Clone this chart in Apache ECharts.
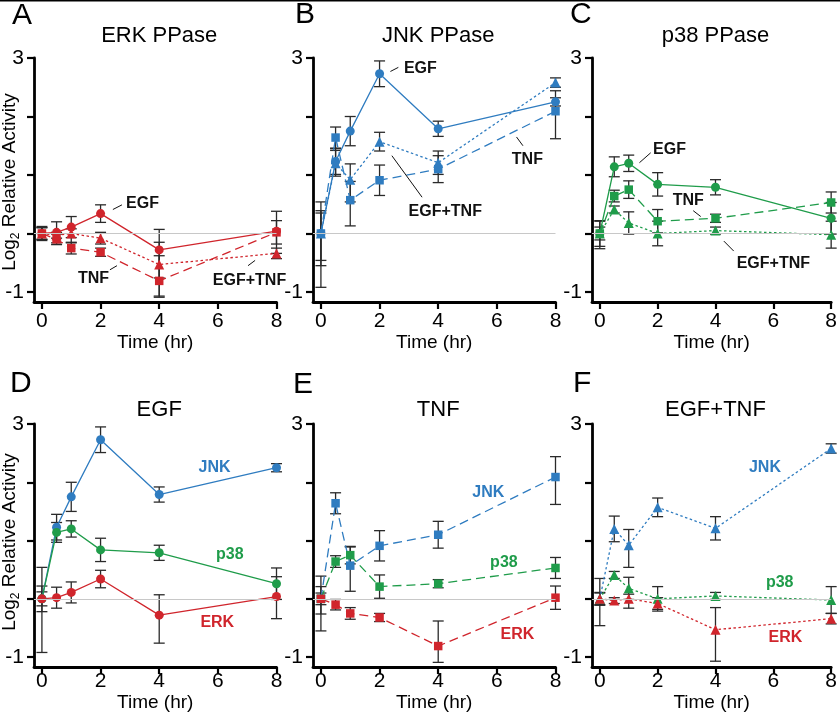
<!DOCTYPE html>
<html><head><meta charset="utf-8">
<script src="https://cdn.jsdelivr.net/npm/echarts@6/dist/echarts.min.js"></script>
<style>html,body{margin:0;padding:0;background:#fff}#c{width:840px;height:713px}</style>
</head><body><div id="c"></div><script>
// ---------- data ----------
const times = [0, 0.5, 1, 2, 4, 8];
const xTicks = [0, 2, 4, 6, 8];
const yTicks = [-1, 0, 1, 2, 3];
const yTickLabels = [-1, 3];
const panelLetters = ['A', 'B', 'C', 'D', 'E', 'F'];
const panelTitles = ['ERK PPase', 'JNK PPase', 'p38 PPase', 'EGF', 'TNF', 'EGF+TNF'];
const treatments = ['EGF', 'TNF', 'EGF+TNF'];
const kinases = ['ERK', 'JNK', 'p38'];

// log2 relative activity (mean); error: number = symmetric, [down, up] otherwise
const erkEGF = [0, 0.02, 0.11, 0.34, -0.28, 0.04];
const erkEGFErr = [0.12, 0.18, 0.18, 0.15, [0.48, 0.35], [0.38, 0.34]];
const erkTNF = [0, -0.10, -0.25, -0.32, -0.81, 0.02];
const erkTNFErr = [0.1, 0.09, 0.1, 0.07, [0.28, 0.43], 0.2];
const erkBoth = [0, -0.03, 0.0, -0.08, -0.53, -0.34];
const erkBothErr = [0.1, 0.05, [0.16, 0.08], 0.1, [0.54, 0.38], 0.09];

const jnkEGF = [0, 1.23, 1.75, 2.73, 1.79, 2.25];
const jnkEGFErr = [[0.92, 0.54], 0.22, 0.25, 0.22, 0.13, 0.07];
const jnkTNF = [0, 1.64, 0.57, 0.91, 1.10, 2.09];
const jnkTNFErr = [[0.55, 0.39], 0.18, [0.44, 0.32], 0.26, 0.23, [0.47, 0.35]];
const jnkBoth = [0, 1.2, 0.92, 1.57, 1.21, 2.58];
const jnkBothErr = [[0.46, 0.35], 0.22, [0.38, 0.27], 0.16, 0.2, 0.08];

const p38EGF = [0, 1.14, 1.2, 0.84, 0.79, 0.26];
const p38EGFErr = [0.22, 0.17, 0.14, 0.2, 0.13, 0.27];
const p38TNF = [0, 0.64, 0.75, 0.21, 0.26, 0.53];
const p38TNFErr = [[0.26, 0.21], 0.1, 0.15, 0.2, 0.07, 0.18];
const p38Both = [0, 0.41, 0.18, 0.0, 0.05, -0.02];
const p38BothErr = [0.11, 0.06, 0.19, 0.21, 0.06, 0.23];

// ---------- styles / layout ----------
const FONT = '"Liberation Sans", Arial, sans-serif';
const COL = { ERK: '#d0252c', JNK: '#2f7cc0', p38: '#1f9c4a' };
const TSTYLE = {
  'EGF': { symbol: 'circle', size: 9, line: 'solid' },
  'TNF': { symbol: 'rect', size: 8.5, line: [9, 5] },
  'EGF+TNF': { symbol: 'triangle', size: 10, line: [2.5, 2.5] }
};
const DATA = {
  ERK: { 'EGF': [erkEGF, erkEGFErr], 'TNF': [erkTNF, erkTNFErr], 'EGF+TNF': [erkBoth, erkBothErr] },
  JNK: { 'EGF': [jnkEGF, jnkEGFErr], 'TNF': [jnkTNF, jnkTNFErr], 'EGF+TNF': [jnkBoth, jnkBothErr] },
  p38: { 'EGF': [p38EGF, p38EGFErr], 'TNF': [p38TNF, p38TNFErr], 'EGF+TNF': [p38Both, p38BothErr] }
};
const gridLefts = [34, 313, 592];
const gridTops = [58, 424];
const GW = 242.5, GH = 244;

// panels: grid index -> list of [kinase, treatment]
const panels = [
  treatments.map(t => ['ERK', t]),
  treatments.map(t => ['JNK', t]),
  treatments.map(t => ['p38', t]),
  ['JNK', 'p38', 'ERK'].map(k => [k, 'EGF']),
  ['JNK', 'p38', 'ERK'].map(k => [k, 'TNF']),
  ['JNK', 'p38', 'ERK'].map(k => [k, 'EGF+TNF'])
];

const grids = [], xAxes = [], yAxes = [], series = [];
for (let g = 0; g < 6; g++) {
  const row = Math.floor(g / 3), col = g % 3;
  grids.push({ left: gridLefts[col], top: gridTops[row], width: GW, height: GH, containLabel: false });
  xAxes.push({
    gridIndex: g, type: 'value', min: -0.27, max: 8, position: 'bottom',
    axisLine: { show: true, onZero: false, lineStyle: { color: '#000', width: 2.8 } },
    axisTick: { show: true, customValues: xTicks, length: 7, lineStyle: { color: '#000', width: 2.2 } },
    axisLabel: { customValues: xTicks, fontSize: 21, color: '#000', fontFamily: FONT, margin: row === 0 ? 9 : 4 },
    splitLine: { show: false },
    name: 'Time (hr)', nameLocation: 'middle', nameGap: row === 0 ? 24 : 23,
    nameTextStyle: { fontSize: 19, color: '#000', fontFamily: FONT }
  });
  yAxes.push({
    gridIndex: g, type: 'value', min: -1.171, max: 3, position: 'left',
    axisLine: { show: true, onZero: false, lineStyle: { color: '#000', width: 2.8 } },
    axisTick: { show: true, customValues: yTicks, length: 7, lineStyle: { color: '#000', width: 2.2 } },
    axisLabel: { customValues: yTickLabels, fontSize: 21, color: '#000', fontFamily: FONT, margin: 10 },
    splitLine: { show: false }
  });
  // zero reference line
  series.push({
    type: 'line', xAxisIndex: g, yAxisIndex: g, data: [], z: 1, silent: true,
    markLine: { silent: true, symbol: 'none', label: { show: false }, animation: false,
      lineStyle: { color: '#c8c8c8', width: 1, type: 'solid' }, data: [{ yAxis: 0 }] }
  });
  panels[g].forEach(([k, t]) => {
    const [mean, err] = DATA[k][t];
    const st = TSTYLE[t];
    const errData = times.map((x, i) => {
      const e = err[i];
      const dn = Array.isArray(e) ? e[0] : e, up = Array.isArray(e) ? e[1] : e;
      return [x, mean[i] - dn, mean[i] + up];
    });
    series.push({
      type: 'custom', xAxisIndex: g, yAxisIndex: g, z: 2, silent: true,
      data: errData, encode: { x: 0, y: [1, 2] },
      renderItem: (params, api) => {
        const x = api.value(0);
        const p1 = api.coord([x, api.value(1)]), p2 = api.coord([x, api.value(2)]);
        const hw = 5.5, s = { stroke: '#2a2a2a', lineWidth: 1.3 };
        return { type: 'group', children: [
          { type: 'line', shape: { x1: p1[0], y1: p1[1], x2: p2[0], y2: p2[1] }, style: s },
          { type: 'line', shape: { x1: p1[0] - hw, y1: p1[1], x2: p1[0] + hw, y2: p1[1] }, style: s },
          { type: 'line', shape: { x1: p2[0] - hw, y1: p2[1], x2: p2[0] + hw, y2: p2[1] }, style: s }
        ] };
      }
    });
    series.push({
      type: 'line', xAxisIndex: g, yAxisIndex: g, z: 3,
      data: times.map((x, i) => [x, mean[i]]),
      symbol: st.symbol, symbolSize: st.size, showSymbol: true,
      lineStyle: { color: COL[k], width: 1.3, type: st.line },
      itemStyle: { color: COL[k], borderWidth: 0 }
    });
  });
}

const chart = echarts.init(document.getElementById('c'), null, { renderer: 'canvas' });
chart.setOption({
  animation: false, backgroundColor: '#fff',
  grid: grids, xAxis: xAxes, yAxis: yAxes, series: series
});

// ---------- annotations (data coordinates) ----------
const annotations = [
  { g: 0, text: 'EGF', at: [3.43, 0.51], lead: [2.42, 0.41, 2.73, 0.49] },
  { g: 0, text: 'TNF', at: [1.76, -0.77], lead: [2.32, -0.62, 2.56, -0.55] },
  { g: 0, text: 'EGF+TNF', at: [7.08, -0.80], lead: [7.03, -0.55, 7.27, -0.46] },
  { g: 1, text: 'EGF', at: [3.39, 2.82], lead: [2.37, 2.77, 2.64, 2.84] },
  { g: 1, text: 'TNF', at: [7.04, 1.26], lead: [6.67, 1.65, 6.89, 1.50] },
  { g: 1, text: 'EGF+TNF', at: [4.24, 0.38], lead: [2.42, 1.33, 3.45, 0.62] },
  { g: 2, text: 'EGF', at: [2.41, 1.44], lead: [1.37, 1.21, 1.76, 1.38] },
  { g: 2, text: 'TNF', at: [3.06, 0.56], lead: [3.23, 0.39, 3.49, 0.29] },
  { g: 2, text: 'EGF+TNF', at: [6.0, -0.51], lead: [4.29, -0.13, 4.63, -0.30] },
  { g: 3, text: 'JNK', at: [5.89, 2.25], color: COL.JNK },
  { g: 3, text: 'p38', at: [6.41, 0.76], color: COL.p38 },
  { g: 3, text: 'ERK', at: [5.98, -0.40], color: COL.ERK },
  { g: 4, text: 'JNK', at: [5.71, 1.82], color: COL.JNK },
  { g: 4, text: 'p38', at: [6.24, 0.63], color: COL.p38 },
  { g: 4, text: 'ERK', at: [6.70, -0.62], color: COL.ERK },
  { g: 5, text: 'JNK', at: [5.71, 2.25], color: COL.JNK },
  { g: 5, text: 'p38', at: [6.22, 0.28], color: COL.p38 },
  { g: 5, text: 'ERK', at: [6.42, -0.67], color: COL.ERK }
];
const letterPos = [[12, 16], [295, 15], [570, 15], [10, 384], [293, 385], [573, 384]];
const titleY = [36, 410];
const yNameCenter = [[10, 182], [10, 542]];

const graphics = [];
graphics.push({ type: 'rect', shape: { x: 0, y: 0, width: 840, height: 1.5 }, style: { fill: '#000' } });
for (let g = 0; g < 6; g++) {
  const row = Math.floor(g / 3);
  const p0 = chart.convertToPixel({ gridIndex: g }, [0, 0]);
  const p8 = chart.convertToPixel({ gridIndex: g }, [8, 0]);
  graphics.push({ type: 'text', x: (p0[0] + p8[0]) / 2, y: titleY[row],
    style: { text: panelTitles[g], font: '22px ' + FONT, fill: '#000', align: 'center', verticalAlign: 'middle' } });
  graphics.push({ type: 'text', x: letterPos[g][0], y: letterPos[g][1],
    style: { text: panelLetters[g], font: '30px ' + FONT, fill: '#000', align: 'left', verticalAlign: 'middle' } });
}
yNameCenter.forEach(([cx, cy]) => {
  graphics.push({ type: 'text', x: cx, y: cy, rotation: Math.PI / 2,
    style: { text: '{a|Log}{s|2}{a| Relative Activity}', align: 'center', verticalAlign: 'middle', fill: '#000',
      rich: { a: { fontSize: 19, fontFamily: FONT, lineHeight: 24, fill: '#000' },
              s: { fontSize: 12, fontFamily: FONT, lineHeight: 12, verticalAlign: 'bottom', fill: '#000' } } } });
});
annotations.forEach(a => {
  const p = chart.convertToPixel({ gridIndex: a.g }, a.at);
  graphics.push({ type: 'text', x: p[0], y: p[1], z: 10,
    style: { text: a.text, font: 'bold 16px ' + FONT, fill: a.color || '#111', align: 'center', verticalAlign: 'middle' } });
  if (a.lead) {
    const q1 = chart.convertToPixel({ gridIndex: a.g }, [a.lead[0], a.lead[1]]);
    const q2 = chart.convertToPixel({ gridIndex: a.g }, [a.lead[2], a.lead[3]]);
    graphics.push({ type: 'line', z: 10, shape: { x1: q1[0], y1: q1[1], x2: q2[0], y2: q2[1] },
      style: { stroke: '#111', lineWidth: 1 } });
  }
});
chart.setOption({ graphic: graphics });
</script></body></html>
